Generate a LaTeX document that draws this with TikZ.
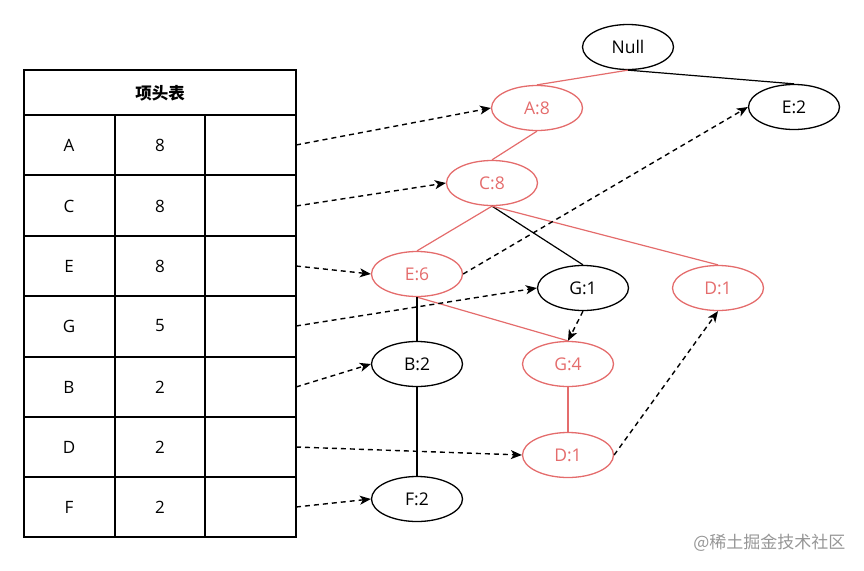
\documentclass[tikz,border=0pt]{standalone}
\usepackage{fontspec}
\setmainfont{Open Sans}
\newfontfamily\cjk{Noto Sans CJK SC}
\usetikzlibrary{arrows.meta,shapes.geometric}
\definecolor{fpred}{RGB}{228,108,108}
\definecolor{wmgray}{RGB}{150,150,150}
\tikzset{
  nd/.style={ellipse,draw=black,line width=1.3pt,minimum width=91pt,minimum height=45pt,inner sep=0pt,font=\fontsize{17.5}{19}\selectfont},
  rnd/.style={nd,draw=fpred,text=fpred},
  tree/.style={line width=1.2pt},
  rtree/.style={line width=1.2pt,draw=fpred},
  ptr/.style={line width=1.4pt,dash pattern=on 5pt off 4pt,-{Stealth[length=11pt,width=9pt,inset=3pt]}},
  cell/.style={font=\fontsize{17}{19}\selectfont},
}
\begin{document}
\begin{tikzpicture}[x=1pt,y=-1pt]
\useasboundingbox (0,0) rectangle (864,570);
% table
\draw[line width=1.3pt] (24,70) rectangle (296,537);
\draw[line width=1.3pt] (24,115) -- (296,115);
\foreach \y in {175,236,296,357,417,477} \draw[line width=1.3pt] (24,\y) -- (296,\y);
\draw[line width=1.3pt] (115,115) -- (115,537);
\draw[line width=1.3pt] (205,115) -- (205,537);
\node[font=\cjk\bfseries\fontsize{16.5}{18}\selectfont] (hdr) at (160,93) {项头表};
\foreach \lab/\cnt/\y/\nm in {A/8/145/a,C/8/206/c,E/8/266/e,G/5/326/g,B/2/387/b,D/2/447/d,F/2/507/f}{
  \node[cell] (l\nm) at (69,\y) {\lab};
  \node[cell] (n\nm) at (160,\y) {\cnt};
  \coordinate (p\nm) at (296,\y);
}
% tree nodes
\node[nd] (null) at (628,47) {Null};
\node[rnd] (a8) at (537,108) {A:8};
\node[nd] (e2) at (794,107) {E:2};
\node[rnd] (c8) at (492,183) {C:8};
\node[rnd] (e6) at (417,274) {E:6};
\node[nd] (g1) at (583,288) {G:1};
\node[rnd] (d1r) at (718,288) {D:1};
\node[nd] (b2) at (417,364) {B:2};
\node[rnd] (g4) at (568,364) {G:4};
\node[rnd] (d1) at (568,455) {D:1};
\node[nd] (f2) at (417,499) {F:2};
% tree edges
\draw[rtree] (null.south) -- (a8.north);
\draw[tree] (null.south) -- (e2.north);
\draw[rtree] (a8.south) -- (c8.north);
\draw[rtree] (c8.south) -- (e6.north);
\draw[tree] (c8.south) -- (g1.north);
\draw[rtree] (c8.south) -- (d1r.north);
\draw[rtree] (e6.south) -- (g4.north);
\draw[tree] (e6.south) -- (b2.north);
\draw[tree] (b2.south) -- (f2.north);
\draw[rtree] (g4.south) -- (d1.north);
% node links
\draw[ptr] (pa) -- (a8.west);
\draw[ptr] (pc) -- (c8.west);
\draw[ptr] (pe) -- (e6.west);
\draw[ptr] (e6.east) -- (e2.west);
\draw[ptr] (pg) -- (g1.west);
\draw[ptr] (g1.south) -- (g4.north);
\draw[ptr] (pb) -- (b2.west);
\draw[ptr] (pd) -- (d1.west);
\draw[ptr] (d1.east) -- (d1r.south);
\draw[ptr] (pf) -- (f2.west);
% watermark
\node[text=wmgray,font=\cjk\fontsize{17}{19}\selectfont,anchor=east] (wm) at (849,543) {@稀土掘金技术社区};
\end{tikzpicture}
\end{document}
